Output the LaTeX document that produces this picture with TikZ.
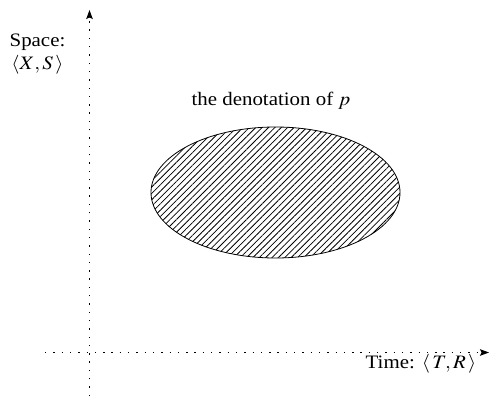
\documentclass[tikz,border=0pt]{standalone}
\usepackage{mathptmx}
\usepackage{fontspec}
\setmainfont{Liberation Serif}
\usetikzlibrary{patterns.meta,arrows.meta}
\tikzset{
  axis/.style={line width=1.4pt, dash pattern=on 1.4pt off 6.9pt, -{Stealth[length=9pt,width=6.5pt,inset=1.5pt]}},
  lbl/.style={anchor=base, inner sep=0pt, font=\fontsize{19}{22}\selectfont, xscale=1.1},
}
\begin{document}
\begin{tikzpicture}[x=1pt,y=-1pt]
\useasboundingbox (0,0) rectangle (489,396);
\coordinate (vb) at (89.5,396);
\coordinate (vt) at (89.5,10);
\coordinate (hl) at (45,352.5);
\coordinate (hr) at (489,352.5);
\draw[axis] (vb) -- (vt);
\draw[axis] (hl) -- (hr);
\path[pattern={Lines[angle=45,distance=4.5pt,line width=0.8pt]}, draw, line width=0.8pt]
  (275.5,192.5) ellipse [x radius=124.5, y radius=65.5];
\node[lbl] (den) at (271,105) {the denotation of $p$};
\node[lbl] (sp) at (37.5,47) {Space:};
\node[lbl] (xs) at (37.5,69) {$\langle X, S\,\rangle$};
\node[lbl] (tm) at (421,368) {Time: $\langle\, T, R\,\rangle$};
\end{tikzpicture}
\end{document}
